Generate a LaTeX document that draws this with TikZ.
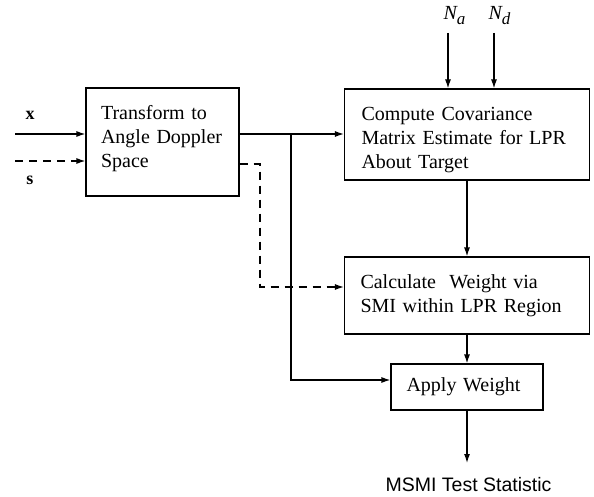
\documentclass[tikz,border=0pt]{standalone}
\usepackage{fontspec}
\setmainfont{Liberation Serif}
\setsansfont{Liberation Sans}
\usetikzlibrary{arrows.meta}
\begin{document}
\begin{tikzpicture}[x=1pt,y=-1pt,
  line width=1.2pt,
  >={Latex[length=9pt,width=6pt]},
  blk/.style={draw, rectangle, align=left, font=\fontsize{20}{24}\selectfont, inner ysep=0pt},
  dsh/.style={dash pattern=on 8pt off 6pt},
  lbl/.style={inner sep=0pt, font=\fontsize{20}{20}\selectfont}]
\useasboundingbox (0,0) rectangle (594,497);

\node[blk, minimum width=153pt, minimum height=108pt, text width=123pt, inner xsep=15pt] (tr) at (162.5,142) {Transform to\\Angle Doppler\\Space\rule[-10.3pt]{0pt}{10.3pt}};
\node[blk, minimum width=245pt, minimum height=91pt, text width=211pt, inner xsep=17pt] (cov) at (467,134.5) {\rule{0pt}{23.5pt}Compute Covariance\\Matrix Estimate for LPR\\About Target};
\node[blk, minimum width=245pt, minimum height=77pt, text width=213pt, inner xsep=16pt] (calc) at (467,295.5) {Calculate\ \ Weight via\\SMI within LPR Region};
\node[blk, minimum width=152pt, minimum height=46pt, text width=121pt, inner xsep=15.5pt] (app) at (467,387) {Apply Weight};
\node[inner sep=0pt, anchor=base, font=\sffamily\fontsize{19.5}{20}\selectfont] (msmi) at (468.5,491) {MSMI Test Statistic};

\node[lbl, anchor=base west] (na) at (443,20) {\itshape N\raisebox{-5pt}{\fontsize{17}{17}\selectfont a}};
\node[lbl, anchor=base west] (nd) at (488,20) {\itshape N\raisebox{-5pt}{\fontsize{17}{17}\selectfont d}};
\node[lbl, font=\bfseries\fontsize{18}{18}\selectfont] (xl) at (30,115.5) {x};
\node[lbl, font=\bfseries\fontsize{18}{18}\selectfont] (sl) at (30,180) {s};

% inputs
\coordinate (xin) at (15,134);
\coordinate (sin) at (15,161);
\draw[->] (xin) -- (xin -| tr.west);
\draw[->,dsh] (sin) -- (sin -| tr.west);

% N_a, N_d
\coordinate (nas) at (448,33);
\coordinate (nds) at (494,33);
\draw[->] (nas) -- (nas |- cov.north);
\draw[->] (nds) -- (nds |- cov.north);

% solid output of transform
\coordinate (split) at (291,134);
\coordinate (br) at (291,380);
\draw[->] (split -| tr.east) -- (split -| cov.west);
\draw[->] (split) -- (br) -- (br -| app.west);

% dashed output of transform
\coordinate (d1) at (260,164);
\coordinate (d2) at (260,287);
\draw[->,dsh] (d1 -| tr.east) -- (d1) -- (d2) -- (d2 -| calc.west);

% vertical chain
\draw[->] (cov.south) -- (calc.north);
\draw[->] (calc.south) -- (calc.south |- app.north);
\coordinate (msmitop) at (467,463);
\draw[->] (app.south) -- (msmitop);
\end{tikzpicture}
\end{document}
